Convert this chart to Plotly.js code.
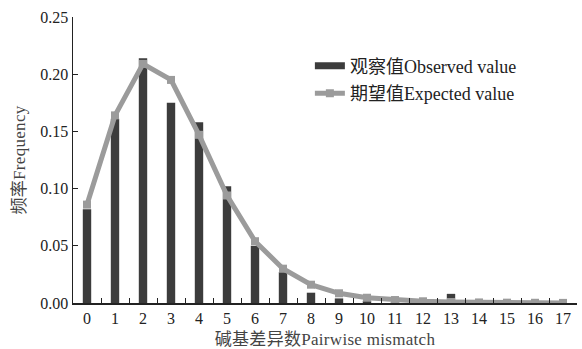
<!DOCTYPE html>
<html><head><meta charset="utf-8">
<script src="https://cdn.plot.ly/plotly-3.0.1.min.js"></script>
<style>body{margin:0;background:#fff}#c{width:582px;height:349px}
#c .xtitle,#c .ytitle{letter-spacing:0.3px}</style>
</head><body><div id="c"></div>
<script>
const categories = ['0','1','2','3','4','5','6','7','8','9','10','11','12','13','14','15','16','17'];
const observed = [0.082,0.161,0.214,0.175,0.158,0.102,0.050,0.027,0.009,0.004,0.002,0.001,0.001,0.008,0.000,0.000,0.000,0.000];
const expected = [0.086,0.164,0.209,0.195,0.147,0.094,0.054,0.030,0.016,0.0085,0.0046,0.0026,0.0015,0.0009,0.0005,0.0003,0.0002,0.0001];
const observedName = '观察值Observed value';
const expectedName = '期望值Expected value';
const xTitle = '碱基差异数Pairwise mismatch';
const yTitle = '频率Frequency';
const yTicks = [0,0.05,0.10,0.15,0.20,0.25];
const yTickText = ['0.00','0.05','0.10','0.15','0.20','0.25'];

const FONT = '"Liberation Serif","Times New Roman","Noto Sans CJK SC",serif';
const traces = [
  {type:'bar', x:categories, y:observed, width:0.3, marker:{color:'#3c3c3c'}, showlegend:false, name:observedName},
  {type:'scatter', mode:'lines', x:[null], y:[null], line:{color:'#3c3c3c', width:7}, name:observedName, legendgroup:'a'},
  {type:'scatter', mode:'lines+markers', x:categories, y:expected, line:{color:'#9b9b9b', width:5},
   marker:{symbol:'square', size:8, color:'#9b9b9b'}, name:expectedName, legendgroup:'b'}
];
const layout = {
  width:582, height:349,
  margin:{l:73, r:5, t:17, b:46},
  paper_bgcolor:'#fff', plot_bgcolor:'#fff',
  font:{family:FONT, size:15, color:'#222'},
  bargap:0.7,
  xaxis:{type:'category', range:[-0.5,17.5], tickson:'boundaries', ticks:'inside', ticklen:5, tickcolor:'#222',
    showline:true, linecolor:'#222', linewidth:1.5, showgrid:false, zeroline:false,
    tickfont:{family:FONT, size:16, color:'#222'},
    title:{text:xTitle, font:{family:FONT, size:17, color:'#444'}, standoff:8}},
  yaxis:{range:[0,0.25], tickvals:yTicks, ticktext:yTickText, ticks:'inside', ticklen:5, tickcolor:'#222',
    showline:true, linecolor:'#222', linewidth:1.5, showgrid:false, zeroline:false,
    tickfont:{family:FONT, size:16, color:'#222'},
    title:{text:yTitle, font:{family:FONT, size:17, color:'#444'}, standoff:10}},
  legend:{x:0.47, y:0.893, xanchor:'left', yanchor:'top', bgcolor:'rgba(0,0,0,0)', borderwidth:0,
    font:{family:FONT, size:18, color:'#222'}, itemwidth:30, tracegroupgap:1, traceorder:'grouped'},
  showlegend:true
};
Plotly.newPlot('c', traces, layout, {staticPlot:true, displayModeBar:false});
</script></body></html>
